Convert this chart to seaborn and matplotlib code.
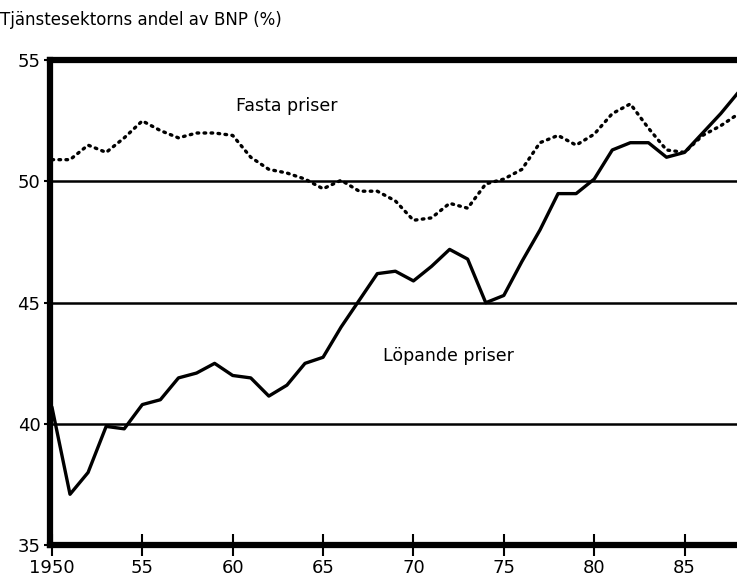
import matplotlib
matplotlib.use("Agg")
import matplotlib.pyplot as plt
import seaborn as sns
import pandas as pd

# Tjänstesektorns andel av BNP (%), 1950-1988
years = list(range(1950, 1989))
lopande = [40.7, 37.1, 38.0, 39.9, 39.8, 40.8, 41.0, 41.9, 42.1, 42.5,
           42.0, 41.9, 41.15, 41.6, 42.5, 42.75, 44.0, 45.1, 46.2, 46.3,
           45.9, 46.5, 47.2, 46.8, 45.0, 45.3, 46.7, 48.0, 49.5, 49.5,
           50.1, 51.3, 51.6, 51.6, 51.0, 51.2, 52.0, 52.8, 53.7]
fasta = [50.9, 50.9, 51.5, 51.2, 51.8, 52.5, 52.1, 51.8, 52.0, 52.0,
         51.9, 51.0, 50.5, 50.35, 50.1, 49.7, 50.05, 49.6, 49.6, 49.2,
         48.4, 48.5, 49.1, 48.9, 49.9, 50.1, 50.5, 51.6, 51.9, 51.5,
         51.95, 52.8, 53.2, 52.2, 51.3, 51.2, 51.9, 52.3, 52.8]
xticks = [1950, 1955, 1960, 1965, 1970, 1975, 1980, 1985]
xticklabels = ["1950", "55", "60", "65", "70", "75", "80", "85"]
yticks = [35, 40, 45, 50, 55]

df = pd.DataFrame({"year": years, "lopande": lopande, "fasta": fasta})

sns.set_theme(style="white")
plt.rcParams["font.family"] = ["DejaVu Sans"]
plt.rcParams["text.color"] = "black"
plt.rcParams["xtick.color"] = "black"
plt.rcParams["ytick.color"] = "black"

fig = plt.figure(figsize=(7.37, 5.85), dpi=100)
ax = fig.add_axes([0.068, 0.068, 0.932, 0.829])

for v in [40, 45, 50]:
    ax.axhline(v, color="black", lw=1.8, zorder=1)

sns.lineplot(data=df, x="year", y="lopande", ax=ax, color="black",
             lw=2.4, zorder=3)
sns.lineplot(data=df, x="year", y="fasta", ax=ax, color="black",
             lw=2.4, linestyle=(0, (0.5, 1.6)), dash_capstyle="round",
             zorder=3)

ax.set_xlim(1949.9, 1987.9)
ax.set_ylim(35, 55)
ax.set_xticks(xticks)
ax.set_xticklabels(xticklabels, fontsize=13)
ax.set_yticks(yticks)
ax.set_yticklabels([str(t) for t in yticks], fontsize=13)
ax.set_xlabel("")
ax.set_ylabel("")

# seaborn's white style switches tick marks off, turn them back on
ax.tick_params(axis="x", bottom=True, direction="inout", length=16, width=1.5,
               color="black", labelcolor="black", pad=2)
ax.tick_params(axis="y", left=True, direction="out", length=4, width=1.5,
               color="black", labelcolor="black", pad=3)

for side in ["left", "bottom", "top"]:
    ax.spines[side].set_visible(True)
    ax.spines[side].set_color("black")
    ax.spines[side].set_linewidth(4.5)
ax.spines["right"].set_visible(False)

ax.text(1960.2, 53.1, "Fasta priser", fontsize=12.5, va="center", ha="left",
        color="black")
ax.text(1968.3, 42.8, "Löpande priser", fontsize=12.5, va="center", ha="left",
        color="black")

fig.text(0.0, 0.965, "Tjänstesektorns andel av BNP (%)", fontsize=12,
         ha="left", va="center", color="black")

fig.savefig("out.png", dpi=100)
